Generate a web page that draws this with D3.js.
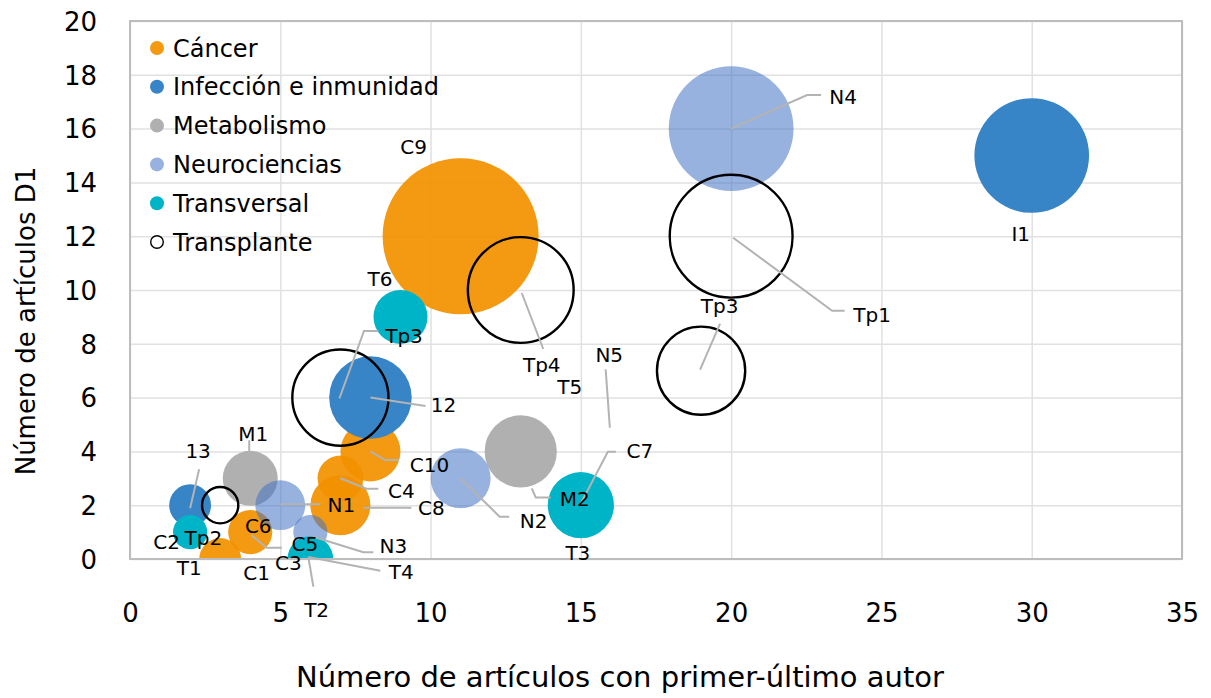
<!DOCTYPE html>
<meta charset="utf-8">
<script src="https://d3js.org/d3.v7.min.js"></script>
<style>
  body { margin: 0; background: #fff; }
  text { font-family: "DejaVu Sans", sans-serif; fill: #000; }
</style>
<div id="my_dataviz"></div>
<script>
// ---- data ----
var categories = ["Cáncer", "Infección e inmunidad", "Metabolismo", "Neurociencias", "Transversal", "Transplante"];
var xTicks = [0, 5, 10, 15, 20, 25, 30, 35];
var yTicks = [0, 2, 4, 6, 8, 10, 12, 14, 16, 18, 20];

// one entry per bubble, in drawing order (series by series)
var bubbleCat  = [0, 0, 0, 0, 0, 0,   1, 1, 1,   2, 2,   3, 3, 3, 3,   4, 4, 4, 4,   5, 5, 5, 5, 5];
var bubbleX    = [11, 8, 7, 7, 4, 3,  30, 8, 2,  13, 4,  20, 11, 5, 6, 15, 9, 6, 2,   20, 13, 7, 19, 3];
var bubbleY    = [12, 4, 2, 3, 1, 0,  15, 6, 2,  4, 3,   16, 3, 2, 1,  2, 9, 0, 1,    12, 10, 6, 7, 2];
var bubbleSize = [50, 7.4, 7.4, 4.3, 4, 3.6,  27, 14, 3.6,  10.7, 6.2,  32, 7.4, 5.1, 2.4,  9, 6, 4.3, 2.4,  31, 23, 19, 16, 2.7];

// point labels and the bubble each one belongs to
var labelText   = ["C9", "C10", "C8", "C4", "C6", "T1", "C1", "I1", "12", "13", "M2", "M1", "N4", "N2", "N1", "N3",
                   "T3", "C7", "N5", "T6", "C5", "C3", "T4", "T2", "C2", "Tp2", "Tp1", "Tp4", "T5", "Tp3", "Tp3"];
var labelBubble = [0, 1, 2, 3, 4, 5, 5, 6, 7, 8, 9, 10, 11, 12, 13, 14,
                   15, 15, 15, 16, 17, 17, 17, 17, 18, 18, 19, 20, 20, 21, 22];

// ---- layout (pixel offsets of labels / leader lines from their bubble centre) ----
var labelOffset = [[-47, -89], [59, 13], [91, 2.5], [61, 12], [8, -6], [-31, 9], [36.5, 14], [-11, 78],
                   [73, 7], [8, -54.5], [54, 47], [3, -45], [112, -32], [73, 42], [61, 0], [83, 14],
                   [-3, 48], [59, -54.5], [28.4, -150], [-20.5, -38], [-5.4, -15], [-22, 3.7], [91, 12.7], [6.3, 50.7],
                   [-23.4, 9.6], [13.2, 5.2], [141, 79], [21, 75], [49, 97], [63.6, -61.6], [18.6, -65.2]];
var leaderOffset = {
  1: [[0, 0], [14.5, 8.6], [28.8, 8.6]],
  2: [[23, 2.5], [71, 2.5]],
  3: [[0, 0], [26, 10.4], [38, 10.4]],
  4: [[1, 3], [16.5, 15.6], [31.5, 15.6]],
  8: [[0, 0], [55, 8.4]],
  9: [[0, 3], [9, -36]],
  10: [[11, 37], [15, 46], [30, 46]],
  11: [[-1, -26], [-1, -38]],
  12: [[0, 0], [76, -33.6], [90, -33.6]],
  13: [[0, 0], [39, 38.4], [48.6, 38.4]],
  14: [[0, -1], [40, -1]],
  15: [[3, 4.6], [53, 20.2], [63, 20.2]],
  17: [[-1, 0], [27, -53.5], [35, -53.5]],
  18: [[24.8, -136], [29, -77.5]],
  22: [[-2, -2], [70, 11.7]],
  23: [[-2, -2], [3, 27.7]],
  26: [[2, 1.5], [101, 74.5], [113.5, 74.5]],
  27: [[1, 3], [22.5, 59]],
  29: [[-1, 0.7], [23.6, -66.6], [38, -66.6]],
  30: [[-1, -1], [19, -47]]
};

var catColor   = ["#F29100", "#3784C6", "#B0B0B0", "#4472C4", "#00B4C8", "none"];
var catOpacity = [0.93, 1, 1, 0.55, 1, 1];

// ---- chart ----
var margin = {top: 21, right: 29, bottom: 139, left: 130},
    width = 1211 - margin.left - margin.right,
    height = 698 - margin.top - margin.bottom;

var svg = d3.select("#my_dataviz")
  .append("svg")
    .attr("width", 1211)
    .attr("height", 698)
  .append("g")
    .attr("transform", "translate(" + margin.left + "," + margin.top + ")");

var x = d3.scaleLinear().domain([0, 35]).range([0, width]);
var y = d3.scaleLinear().domain([0, 20]).range([height, 0]);
var r = d3.scaleSqrt().domain([0, 50]).range([0, 78]);

// gridlines
svg.append("g")
  .call(d3.axisLeft(y).tickValues(yTicks).tickSize(-width).tickFormat(""))
  .call(function(g) { g.select(".domain").remove(); })
  .selectAll("line").attr("stroke", "#E1E1E1").attr("stroke-width", 1.5);
svg.append("g")
  .attr("transform", "translate(0," + height + ")")
  .call(d3.axisBottom(x).tickValues(xTicks).tickSize(-height).tickFormat(""))
  .call(function(g) { g.select(".domain").remove(); })
  .selectAll("line").attr("stroke", "#E1E1E1").attr("stroke-width", 1.5);

// tick labels
svg.append("g")
  .attr("transform", "translate(0," + height + ")")
  .call(d3.axisBottom(x).tickValues(xTicks).tickSize(0).tickPadding(0))
  .call(function(g) { g.select(".domain").remove(); })
  .selectAll("text")
    .attr("y", 63).attr("dy", 0)
    .style("font-size", "26px")
    .style("font-family", "DejaVu Sans");
svg.append("g")
  .call(d3.axisLeft(y).tickValues(yTicks).tickSize(0).tickPadding(33))
  .call(function(g) { g.select(".domain").remove(); })
  .selectAll("text")
    .attr("dy", "0.36em")
    .style("font-size", "26px")
    .style("font-family", "DejaVu Sans");

// bubbles, clipped to plot area
svg.append("clipPath").attr("id", "plotclip")
  .append("rect").attr("width", width).attr("height", height);

var idx = d3.range(bubbleX.length);
svg.append("g")
  .attr("clip-path", "url(#plotclip)")
  .selectAll("circle")
  .data(idx)
  .enter()
  .append("circle")
    .attr("cx", function(i) { return x(bubbleX[i]); })
    .attr("cy", function(i) { return y(bubbleY[i]); })
    .attr("r", function(i) { return r(bubbleSize[i]); })
    .attr("fill", function(i) { return catColor[bubbleCat[i]]; })
    .attr("fill-opacity", function(i) { return catOpacity[bubbleCat[i]]; })
    .attr("stroke", function(i) { return bubbleCat[i] === 5 ? "#000" : "none"; })
    .attr("stroke-width", 2.4);

// frame
svg.append("rect")
  .attr("width", width).attr("height", height)
  .attr("fill", "none").attr("stroke", "#BDBDBD").attr("stroke-width", 2);

// leader lines
var line = d3.line();
Object.keys(leaderOffset).forEach(function(k) {
  var b = labelBubble[k];
  var cx = x(bubbleX[b]), cy = y(bubbleY[b]);
  svg.append("path")
    .attr("d", line(leaderOffset[k].map(function(p) { return [cx + p[0], cy + p[1]]; })))
    .attr("fill", "none")
    .attr("stroke", "#B3B3B3")
    .attr("stroke-width", 2);
});

// point labels
svg.append("g").selectAll("text")
  .data(labelText)
  .enter()
  .append("text")
    .attr("x", function(d, i) { return x(bubbleX[labelBubble[i]]) + labelOffset[i][0]; })
    .attr("y", function(d, i) { return y(bubbleY[labelBubble[i]]) + labelOffset[i][1]; })
    .attr("dy", "0.36em")
    .attr("text-anchor", "middle")
    .style("font-size", "20px")
    .text(function(d) { return d; });

// legend
var legend = svg.append("g").attr("transform", "translate(27,27)");
categories.forEach(function(c, i) {
  var row = legend.append("g").attr("transform", "translate(0," + (i * 38.8) + ")");
  row.append("circle")
    .attr("r", i === 5 ? 6.3 : 7)
    .attr("fill", i === 5 ? "#fff" : catColor[i])
    .attr("fill-opacity", catOpacity[i])
    .attr("stroke", i === 5 ? "#000" : "none")
    .attr("stroke-width", 1.4);
  row.append("text")
    .attr("x", 16)
    .attr("dy", "0.36em")
    .style("font-size", "24px")
    .text(c);
});

// axis titles
svg.append("text")
  .attr("x", 620 - margin.left)
  .attr("y", 687 - margin.top)
  .attr("text-anchor", "middle")
  .style("font-size", "29px")
  .text("Número de artículos con primer-último autor");

svg.append("text")
  .attr("transform", "translate(" + (35 - margin.left) + "," + (321 - margin.top) + ") rotate(-90)")
  .attr("text-anchor", "middle")
  .style("font-size", "26px")
  .text("Número de artículos D1");
</script>
